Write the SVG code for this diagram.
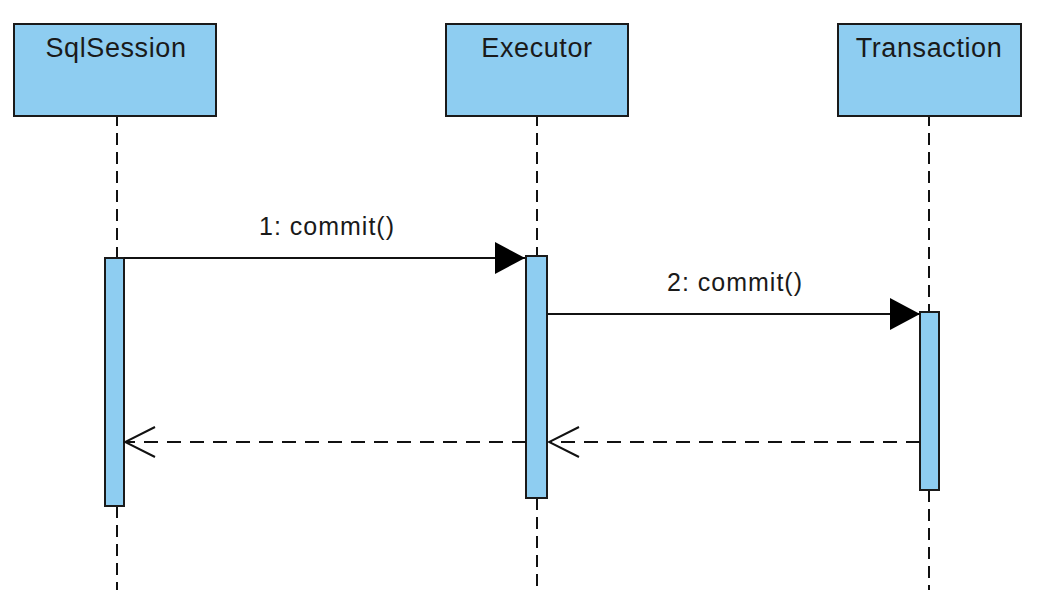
<svg xmlns="http://www.w3.org/2000/svg" width="1040" height="610" viewBox="0 0 1040 610">
<style>
.box{fill:#8ecdf1;stroke:#1a1a1a;stroke-width:2}
.act{fill:#8ecdf1;stroke:#1a1a1a;stroke-width:2}
.life{stroke:#111;stroke-width:2;stroke-dasharray:12 7;fill:none}
.msg{stroke:#111;stroke-width:2;fill:none}
.ret{stroke:#111;stroke-width:2;stroke-dasharray:14 9;fill:none}
.t{font-family:"Liberation Sans",Arial,sans-serif;font-size:27px;fill:#1a1a1a;text-anchor:middle;letter-spacing:0.6px}
.l{font-family:"Liberation Sans",Arial,sans-serif;font-size:25px;fill:#1a1a1a;text-anchor:middle;letter-spacing:1px}
</style>
<defs>
<marker id="filled" markerWidth="32" markerHeight="34" refX="31" refY="17" orient="auto" markerUnits="userSpaceOnUse">
<path d="M1,1 L31,17 L1,33 Z" fill="#000"/>
</marker>
<marker id="open" markerWidth="34" markerHeight="34" refX="32" refY="17" orient="auto" markerUnits="userSpaceOnUse">
<path d="M2,2 L32,17 L2,32" fill="none" stroke="#111" stroke-width="2"/>
</marker>
</defs>
<g id="lifelines">
<line class="msg" x1="117" y1="117" x2="117" y2="126"/>
<line class="life" x1="117" y1="133" x2="117" y2="258"/>
<line class="life" x1="117" y1="506" x2="117" y2="590"/>
<line class="msg" x1="537" y1="117" x2="537" y2="126"/>
<line class="life" x1="537" y1="133" x2="537" y2="256"/>
<line class="life" x1="537" y1="498" x2="537" y2="590"/>
<line class="msg" x1="929" y1="117" x2="929" y2="126"/>
<line class="life" x1="929" y1="133" x2="929" y2="312"/>
<line class="life" x1="929" y1="490" x2="929" y2="590"/>
</g>
<g id="SqlSession">
<rect class="box" x="14" y="24" width="202" height="92"/>
<text class="t" x="116" y="57">SqlSession</text>
<rect class="act" x="105" y="258" width="19" height="248"/>
</g>
<g id="Executor">
<rect class="box" x="446" y="24" width="182" height="92"/>
<text class="t" x="537" y="57">Executor</text>
<rect class="act" x="526" y="256" width="21" height="242"/>
</g>
<g id="Transaction">
<rect class="box" x="838" y="24" width="183" height="92"/>
<text class="t" x="929" y="57">Transaction</text>
<rect class="act" x="920" y="312" width="19" height="178"/>
</g>
<g id="connectors">
<line class="msg" x1="124" y1="258" x2="525" y2="258" marker-end="url(#filled)"/>
<text class="l" x="327" y="235">1: commit()</text>
<line class="msg" x1="548" y1="314" x2="920" y2="314" marker-end="url(#filled)"/>
<text class="l" x="735" y="291">2: commit()</text>
<line class="ret" x1="920" y1="442" x2="549" y2="442" marker-end="url(#open)"/>
<line class="ret" x1="526" y1="442" x2="125" y2="442" marker-end="url(#open)"/>
</g>
</svg>
